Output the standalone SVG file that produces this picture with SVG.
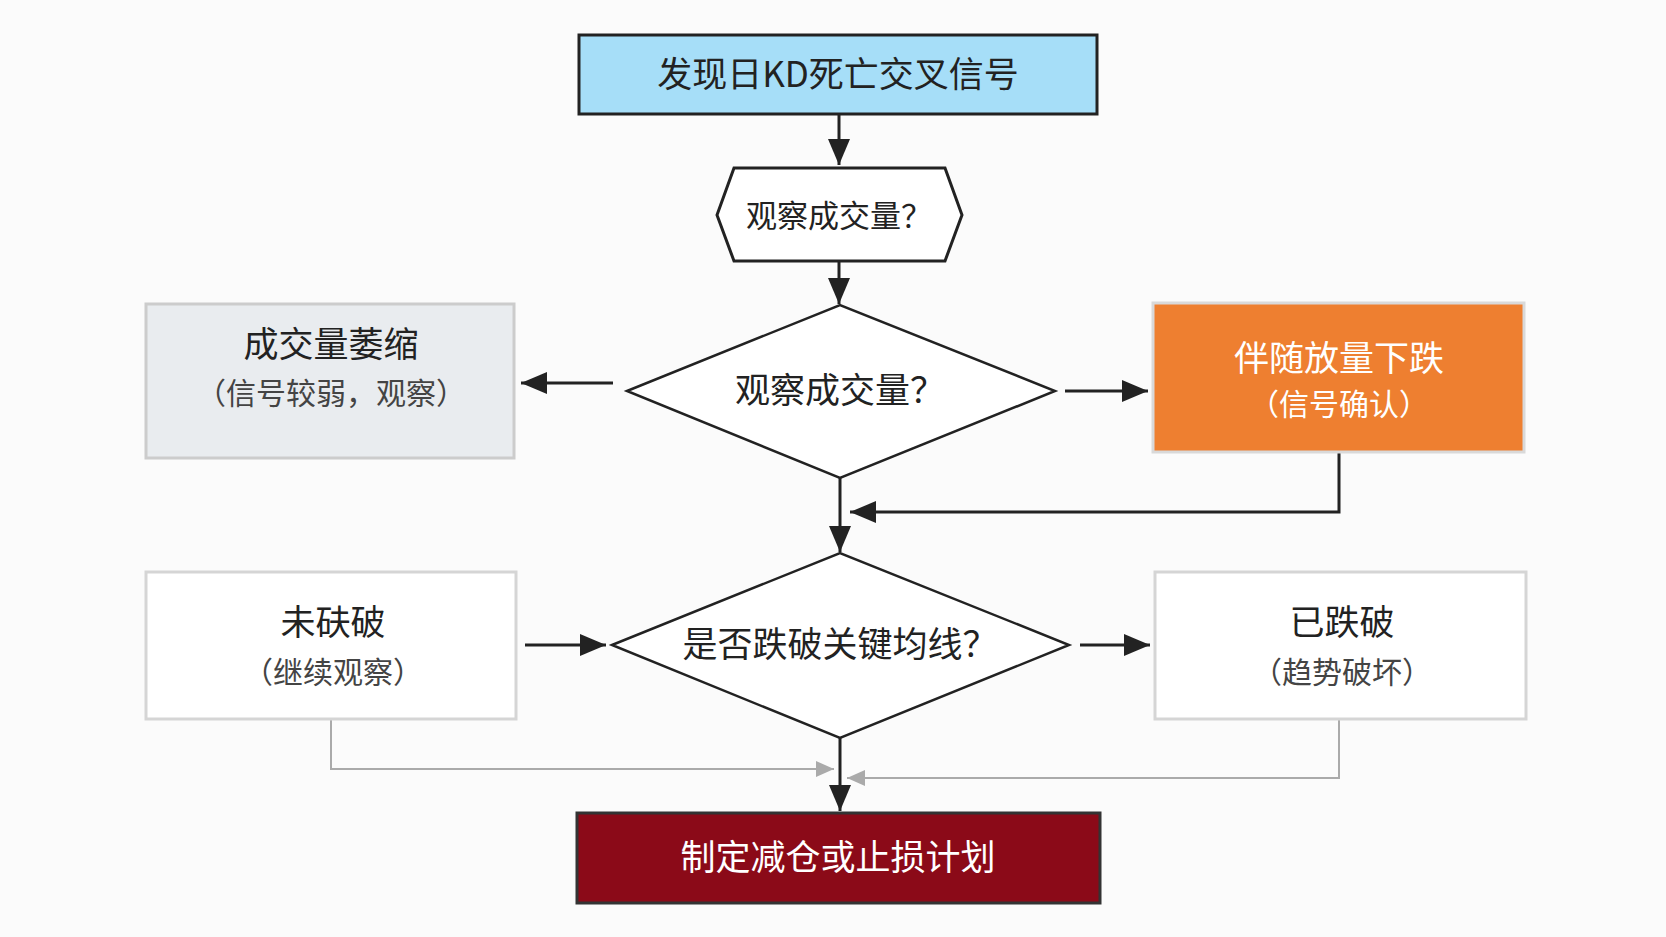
<svg xmlns="http://www.w3.org/2000/svg" width="1666" height="937" viewBox="0 0 1666 937">
<style>
text{font-family:"Noto Sans CJK SC","Liberation Sans",sans-serif;text-anchor:middle;fill:#222}
.t{font-size:35px}.s{font-size:30px;fill:#444}
.c{stroke:#222;stroke-width:3;fill:none}
.g{stroke:#aaa;stroke-width:2;fill:none}
</style>
<defs>
<marker id="ag" markerWidth="18" markerHeight="16" refX="18" refY="8" orient="auto" markerUnits="userSpaceOnUse"><path d="M0,0L18,8L0,16z" fill="#aaa"/></marker>
<marker id="ab" markerWidth="26" markerHeight="22" refX="26" refY="11" orient="auto" markerUnits="userSpaceOnUse"><path d="M0,0L26,11L0,22z" fill="#222"/></marker>
</defs>
<rect width="1666" height="937" fill="#fbfbfb"/>
<g id="connectors">
<line class="c" x1="839" y1="114" x2="839" y2="165" marker-end="url(#ab)"/>
<line class="c" x1="839" y1="261" x2="839" y2="304" marker-end="url(#ab)"/>
<line class="c" x1="613" y1="383" x2="521" y2="383" marker-end="url(#ab)"/>
<line class="c" x1="1065" y1="391" x2="1148" y2="391" marker-end="url(#ab)"/>
<polyline class="c" points="1339,452 1339,512 850,512" marker-end="url(#ab)"/>
<line class="c" x1="840" y1="478" x2="840" y2="552" marker-end="url(#ab)"/>
<line class="c" x1="525" y1="645" x2="606" y2="645" marker-end="url(#ab)"/>
<line class="c" x1="1080" y1="645" x2="1150" y2="645" marker-end="url(#ab)"/>
<polyline class="g" points="331,719 331,769 834,769" marker-end="url(#ag)"/>
<polyline class="g" points="1339,719 1339,778 847,778" marker-end="url(#ag)"/>
<line class="c" x1="840" y1="738" x2="840" y2="811" marker-end="url(#ab)"/>
</g>
<g id="start"><rect x="579" y="35" width="518" height="79" fill="#a6def8" stroke="#222" stroke-width="3"/><text class="t" x="838" y="87">发现日KD死亡交叉信号</text></g>
<g id="hex"><polygon points="717,215 734,168 945,168 962,215 945,261 734,261" fill="#fff" stroke="#222" stroke-width="3"/><text class="t" x="839" y="227" style="font-size:31px">观察成交量？</text></g>
<g id="d1"><polygon points="627,391 840,305 1055,391 840,478" fill="#fff" stroke="#222" stroke-width="2.5"/><text class="t" x="840" y="403">观察成交量？</text></g>
<g id="shrink"><rect x="146" y="304" width="368" height="154" fill="#e9ecef" stroke="#ccc" stroke-width="3"/><text class="t" x="331" y="357">成交量萎缩</text><text class="s" x="331" y="404">（信号较弱，观察）</text></g>
<g id="volup"><rect x="1153" y="303" width="371" height="149" fill="#ee7f30" stroke="#d9d9d9" stroke-width="3"/><text class="t" x="1339" y="371" style="fill:#fff">伴随放量下跌</text><text class="s" x="1339" y="415" style="fill:#fff">（信号确认）</text></g>
<g id="d2"><polygon points="612,645 840,553 1069,645 840,738" fill="#fff" stroke="#222" stroke-width="2.5"/><text class="t" x="840" y="657">是否跌破关键均线？</text></g>
<g id="notbreak"><rect x="146" y="572" width="370" height="147" fill="#fff" stroke="#d5d5d5" stroke-width="3"/><text class="t" x="333" y="635">未砆破</text><text class="s" x="333" y="683">（继续观察）</text></g>
<g id="broke"><rect x="1155" y="572" width="371" height="147" fill="#fff" stroke="#d5d5d5" stroke-width="3"/><text class="t" x="1342" y="635">已跌破</text><text class="s" x="1342" y="683">（趋势破坏）</text></g>
<g id="end"><rect x="577" y="813" width="523" height="90" fill="#8b0a18" stroke="#333" stroke-width="3"/><text class="t" x="838" y="870" style="fill:#fff">制定减仓或止损计划</text></g>
</svg>
